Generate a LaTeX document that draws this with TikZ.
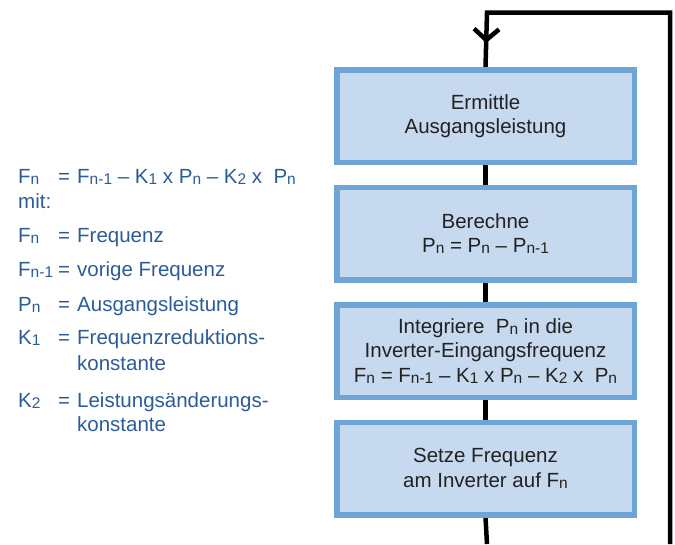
\documentclass[tikz,border=0pt]{standalone}
\usepackage{fontspec}
\setmainfont{Liberation Sans}
\usetikzlibrary{arrows.meta,decorations.markings,backgrounds}
\definecolor{boxfill}{HTML}{C6D9EE}
\definecolor{boxline}{HTML}{6FA5D6}
\definecolor{boxtext}{HTML}{222222}
\definecolor{legblue}{HTML}{2C5B9A}
\newcommand\sbx[1]{\raisebox{-1pt}{\fontsize{15.5}{15.5}\selectfont #1}}
\newcommand\lbl[1]{\makebox[40pt][l]{#1}\makebox[19pt][l]{=}}
\tikzset{
  stepbox/.style={draw=boxline, fill=boxfill, line width=5.5pt, minimum width=297.5pt,
    minimum height=92.5pt, inner sep=0pt, align=center, text=boxtext,
    font=\fontsize{20.5}{24.5}\selectfont},
  flowline/.style={line width=4.5pt, black},
  legend/.style={anchor=base west, inner sep=0pt, text=legblue, font=\fontsize{20.5}{24}\selectfont},
}
\begin{document}
\begin{tikzpicture}[x=1pt,y=-1pt]
\useasboundingbox (0,0) rectangle (675,544);
% boxes
\node[stepbox] (b1) at (485.5,116) {Ermittle\\Ausgangsleistung};
\node[stepbox] (b2) at (485.5,233.5) {Berechne\\P\sbx{n} = P\sbx{n} – P\sbx{n-1}};
\node[stepbox] (b3) at (485.5,351) {Integriere~ P\sbx{n} in die\\Inverter-Eingangsfrequenz\\F\sbx{n} = F\sbx{n-1} – K\sbx{1} x P\sbx{n} – K\sbx{2} x~ P\sbx{n}};
\node[stepbox] (b4) at (485.5,468.5) {Setze Frequenz\\am Inverter auf F\sbx{n}};
% loop coordinates
\coordinate (topL) at (487,12.5);
\coordinate (topR) at (670,12.5);
\coordinate (botR) at (670,544);
\coordinate (botL) at (487,544);
% connectors
\begin{scope}[on background layer]
\draw[flowline] (b1.south) -- (b2.north);
\draw[flowline] (b2.south) -- (b3.north);
\draw[flowline] (b3.south) -- (b4.north);
\draw[flowline] (b4.south) -- (botL);
\draw[flowline, line join=miter,
  postaction={decorate, decoration={markings,
    mark=at position 745pt with {\arrow[line width=4.5pt]{Straight Barb[length=11pt,width=25pt]}}}}]
  (botR) -- (topR) -- (topL) -- (b1.north);
\end{scope}
% legend
\node[legend] (l1) at (18,183) {\lbl{F\sbx{n}}F\sbx{n-1} – K\sbx{1} x P\sbx{n} – K\sbx{2} x~ P\sbx{n}};
\node[legend] (l2) at (18,208) {mit:};
\node[legend] (l3) at (18,242) {\lbl{F\sbx{n}}Frequenz};
\node[legend] (l4) at (18,276) {\lbl{F\sbx{n-1}}vorige Frequenz};
\node[legend] (l5) at (18,311) {\lbl{P\sbx{n}}Ausgangsleistung};
\node[legend] (l6) at (18,344) {\lbl{K\sbx{1}}Frequenzreduktions-};
\node[legend] (l7) at (77,370) {konstante};
\node[legend] (l8) at (18,407) {\lbl{K\sbx{2}}Leistungsänderungs-};
\node[legend] (l9) at (77,431) {konstante};
\end{tikzpicture}
\end{document}
